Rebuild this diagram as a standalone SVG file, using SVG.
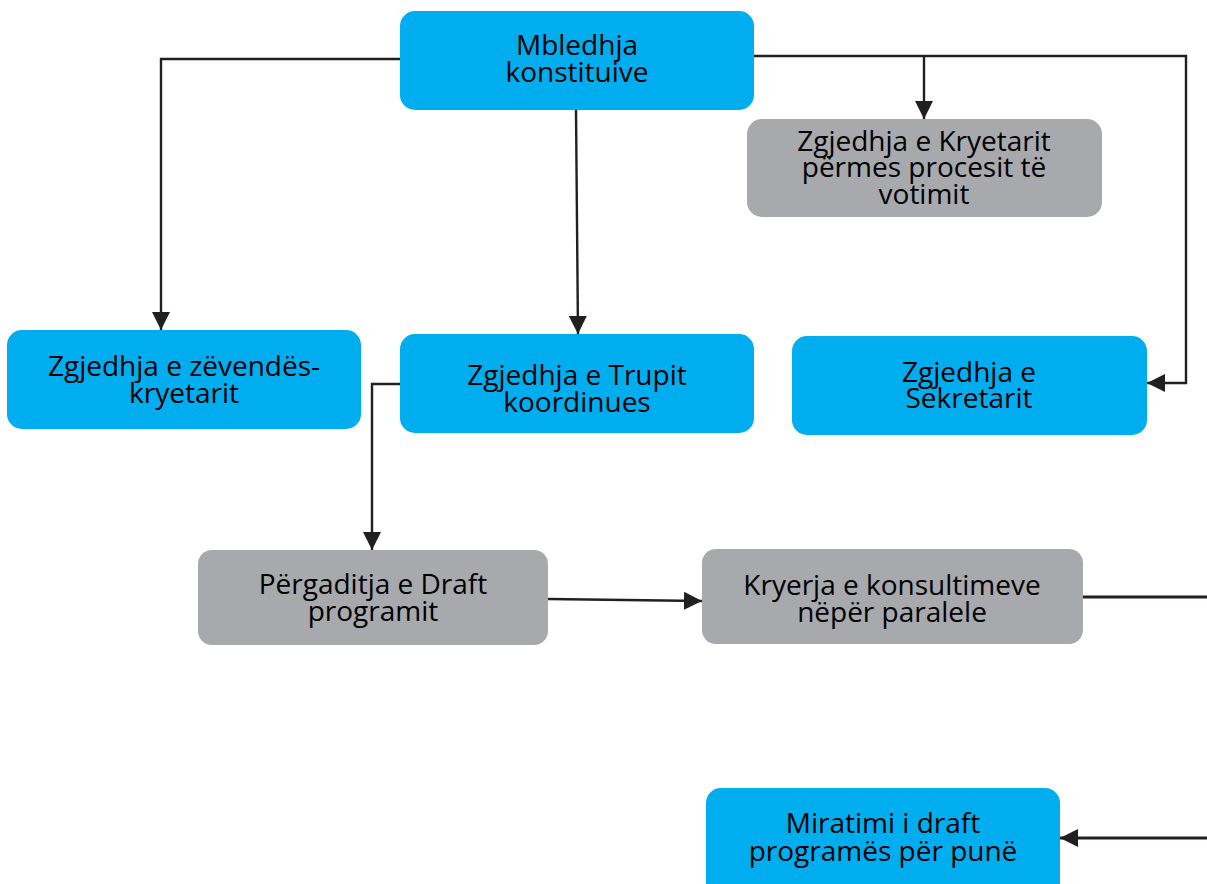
<svg xmlns="http://www.w3.org/2000/svg" width="1207" height="884" viewBox="0 0 1207 884">
<defs>
<style>
.blue{fill:#00aeef}
.gray{fill:#a7a9ac}
text{font-family:"Open Sans","Noto Sans","Liberation Sans",sans-serif;font-size:28px;fill:#000;text-anchor:middle}
.c{fill:none;stroke:#231f20;stroke-width:2.4}
</style>
<marker id="ah" markerUnits="userSpaceOnUse" markerWidth="20" markerHeight="18" refX="18" refY="9" orient="auto">
<path d="M0,0 L18,9 L0,18 Z" fill="#231f20"/>
</marker>
</defs>
<rect width="1207" height="884" fill="#fff"/>
<g id="connectors">
<path class="c" d="M400,59 H161 V330" marker-end="url(#ah)"/>
<path class="c" d="M576,110 L578,334" marker-end="url(#ah)"/>
<path class="c" d="M754,56 H1186 V383 H1147" marker-end="url(#ah)"/>
<path class="c" d="M924,56 V119" marker-end="url(#ah)"/>
<path class="c" d="M400,384 H372 V550" marker-end="url(#ah)"/>
<path class="c" d="M548,599 L702,601" marker-end="url(#ah)"/>
<path class="c" d="M1083,597 H1207" style="stroke-width:3.2"/>
<path class="c" d="M1207,838 H1060" style="stroke-width:3" marker-end="url(#ah)"/>
</g>
<g id="n1">
<rect class="blue" x="400" y="11" width="354" height="99" rx="15"/>
<text x="577" y="55">Mbledhja</text>
<text x="577" y="82">konstituive</text>
</g>
<g id="n2">
<rect class="gray" x="747" y="119" width="355" height="98" rx="15"/>
<text x="924" y="151">Zgjedhja e Kryetarit</text>
<text x="924" y="177">përmes procesit të</text>
<text x="924" y="204">votimit</text>
</g>
<g id="n3">
<rect class="blue" x="7" y="330" width="354" height="99" rx="15"/>
<text x="184" y="376">Zgjedhja e zëvendës-</text>
<text x="184" y="403">kryetarit</text>
</g>
<g id="n4">
<rect class="blue" x="400" y="334" width="354" height="99" rx="15"/>
<text x="577" y="385">Zgjedhja e Trupit</text>
<text x="577" y="412">koordinues</text>
</g>
<g id="n5">
<rect class="blue" x="792" y="336" width="355" height="99" rx="15"/>
<text x="969" y="382">Zgjedhja e</text>
<text x="969" y="408">Sekretarit</text>
</g>
<g id="n6">
<rect class="gray" x="198" y="550" width="350" height="95" rx="14"/>
<text x="373" y="594">Përgaditja e Draft</text>
<text x="373" y="621">programit</text>
</g>
<g id="n7">
<rect class="gray" x="702" y="549" width="381" height="95" rx="14"/>
<text x="892" y="595">Kryerja e konsultimeve</text>
<text x="892" y="622">nëpër paralele</text>
</g>
<g id="n8">
<rect class="blue" x="706" y="788" width="354" height="110" rx="15"/>
<text x="883" y="833">Miratimi i draft</text>
<text x="883" y="861">programës për punë</text>
</g>
</svg>
